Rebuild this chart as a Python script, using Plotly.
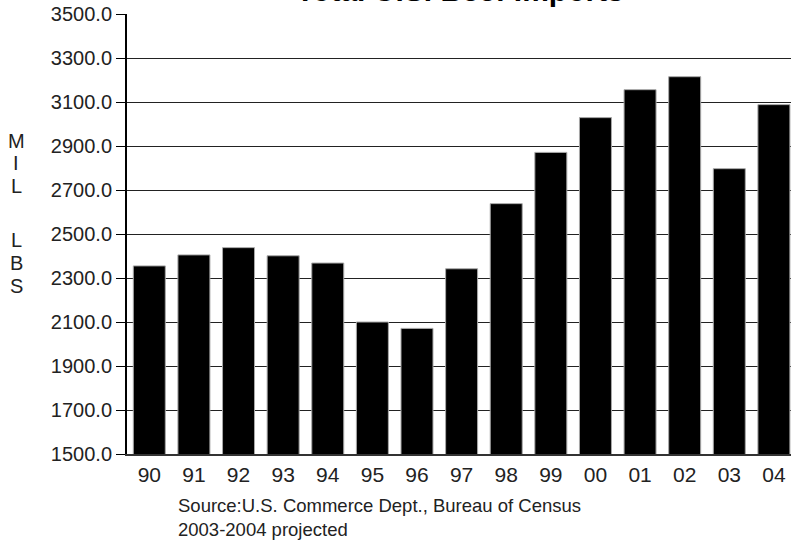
import plotly.graph_objects as go

years = ["90", "91", "92", "93", "94", "95", "96", "97", "98", "99", "00", "01", "02", "03", "04"]
imports_mil_lbs = [2355, 2405, 2438, 2401, 2368, 2100, 2071, 2342, 2638, 2871, 3029, 3156, 3215, 2797, 3088]

title_text = "Total U.S. Beef Imports"
source_text = "Source:U.S. Commerce Dept., Bureau of Census<br>2003-2004 projected"
ylabel_letters = ["M", "I", "L", "L", "B", "S"]

W, H = 791, 550
L, R, T, B = 127, 0, 14, 96
ph = H - T - B
pw = W - L - R

def py(p):
    return (H - B - p) / ph

def px(p):
    return (p - L) / pw

FONT = "Liberation Sans, Arial, sans-serif"

fig = go.Figure(
    go.Bar(
        x=years,
        y=imports_mil_lbs,
        marker=dict(color="black", line=dict(color="#a8a8a8", width=1)),
    )
)

annotations = [
    dict(text="<b>" + title_text + "</b>", x=px(460), y=py(-10), xref="paper", yref="paper",
         xanchor="center", yanchor="middle", showarrow=False,
         font=dict(family=FONT, size=30, color="black")),
    dict(text=source_text, x=px(176), y=py(493), xref="paper", yref="paper",
         xanchor="left", yanchor="top", align="left", showarrow=False,
         font=dict(family=FONT, size=18.5, color="#222")),
]
letter_y = [141, 163, 186, 240, 263, 286]
for ch, yy in zip(ylabel_letters, letter_y):
    annotations.append(dict(text=ch, x=px(16), y=py(yy), xref="paper", yref="paper",
                            xanchor="center", yanchor="middle", showarrow=False,
                            font=dict(family=FONT, size=20, color="#222")))

fig.update_layout(
    width=W, height=H,
    margin=dict(l=L, r=R, t=T, b=B, pad=0),
    paper_bgcolor="white", plot_bgcolor="white",
    showlegend=False,
    bargap=0.283,
    annotations=annotations,
    xaxis=dict(
        type="category",
        range=[-0.5, 14.383],
        showgrid=False,
        showline=True, linecolor="#333", linewidth=2,
        ticks="", ticklabelstandoff=1,
        tickfont=dict(family=FONT, size=21, color="#222"),
        zeroline=False,
    ),
    yaxis=dict(
        range=[1500, 3500],
        tickmode="linear", tick0=1500, dtick=200,
        tickformat=".1f",
        showgrid=True, gridcolor="#222", gridwidth=1,
        showline=True, linecolor="black", linewidth=2,
        ticks="outside", ticklen=9, tickcolor="black", tickwidth=1,
        tickfont=dict(family=FONT, size=20, color="#222"),
        zeroline=False,
    ),
)

fig.write_html(
    "out.html",
    config={"displayModeBar": False},
    post_script="document.body.style.margin='0';document.body.style.overflow='hidden';",
)
